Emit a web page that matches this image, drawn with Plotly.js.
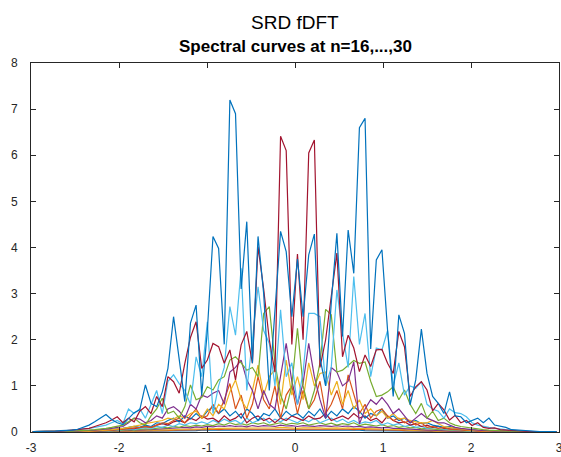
<!DOCTYPE html>
<html><head><meta charset="utf-8">
<script src="https://cdn.plot.ly/plotly-3.0.1.min.js"></script>
<style>html,body{margin:0;padding:0;background:#fff;overflow:hidden}#chart{width:561px;height:457px}</style>
</head><body><div id="chart"></div>
<script>
// frequency grid
var xGrid = [-2.98,-2.916,-2.852,-2.788,-2.724,-2.66,-2.596,-2.532,-2.468,-2.404,
-2.34,-2.276,-2.212,-2.148,-2.084,-2.02,-1.956,-1.892,-1.828,-1.764,
-1.7,-1.636,-1.572,-1.508,-1.444,-1.38,-1.316,-1.252,-1.188,-1.124,
-1.06,-0.996,-0.932,-0.868,-0.804,-0.74,-0.676,-0.612,-0.548,-0.484,
-0.42,-0.356,-0.292,-0.228,-0.164,-0.1,-0.036,0.028,0.092,0.156,
0.22,0.284,0.348,0.412,0.476,0.54,0.604,0.668,0.732,0.796,
0.86,0.924,0.988,1.052,1.116,1.18,1.244,1.308,1.372,1.436,
1.5,1.564,1.628,1.692,1.756,1.82,1.884,1.948,2.012,2.076,
2.14,2.204,2.268,2.332,2.396,2.46,2.524,2.588,2.652,2.716,
2.78,2.844,2.908,2.972];

var n16 = [0,0,0,0,0,0,0,0,0,0,
0,0,0,0.01,0.01,0.01,0.01,0.01,0.01,0.02,
0.02,0.02,0.02,0.02,0.03,0.03,0.03,0.03,0.03,0.03,
0.04,0.04,0.04,0.04,0.04,0.04,0.04,0.04,0.04,0.05,
0.04,0.05,0.04,0.05,0.04,0.05,0.04,0.05,0.04,0.05,
0.04,0.05,0.04,0.04,0.04,0.04,0.04,0.04,0.04,0.03,
0.03,0.03,0.03,0.03,0.03,0.03,0.02,0.02,0.02,0.02,
0.02,0.01,0.01,0.01,0.01,0.01,0.01,0,0,0,
0,0,0,0,0,0,0,0,0,0,0,0,0,0];
var n17 = [0,0,0,0,0,0,0,0,0,0,
0,0,0.01,0.01,0.01,0.01,0.01,0.02,0.02,0.02,
0.02,0.03,0.03,0.03,0.03,0.04,0.04,0.04,0.05,0.05,
0.05,0.05,0.06,0.05,0.06,0.06,0.06,0.06,0.06,0.07,
0.06,0.07,0.06,0.07,0.07,0.06,0.07,0.06,0.07,0.06,
0.07,0.06,0.07,0.06,0.06,0.06,0.06,0.05,0.06,0.05,
0.05,0.05,0.04,0.04,0.04,0.04,0.03,0.03,0.03,0.02,
0.02,0.02,0.02,0.01,0.01,0.01,0.01,0.01,0,0,
0,0,0,0,0,0,0,0,0,0,0,0,0,0];
var n18 = [0,0,0,0,0,0,0,0,0,0,
0,0.01,0.01,0.01,0.01,0.02,0.02,0.02,0.03,0.03,
0.03,0.04,0.04,0.05,0.05,0.05,0.06,0.06,0.07,0.07,
0.07,0.08,0.07,0.08,0.08,0.09,0.08,0.09,0.08,0.09,
0.09,0.08,0.09,0.09,0.1,0.09,0.09,0.08,0.09,0.09,
0.1,0.09,0.08,0.09,0.09,0.08,0.09,0.08,0.08,0.07,
0.07,0.07,0.06,0.06,0.05,0.05,0.05,0.04,0.04,0.03,
0.03,0.03,0.02,0.02,0.02,0.01,0.01,0.01,0.01,0,
0,0,0,0,0,0,0,0,0,0,0,0,0,0];
var n19 = [0,0,0,0,0,0,0,0,0.01,0.01,
0.01,0.01,0.01,0.02,0.02,0.02,0.03,0.03,0.04,0.04,
0.05,0.05,0.06,0.07,0.07,0.08,0.09,0.1,0.09,0.11,
0.1,0.12,0.11,0.13,0.12,0.14,0.12,0.13,0.11,0.14,
0.12,0.14,0.13,0.12,0.15,0.13,0.14,0.12,0.14,0.13,
0.12,0.14,0.13,0.12,0.14,0.12,0.13,0.11,0.12,0.1,
0.11,0.1,0.09,0.1,0.08,0.08,0.07,0.06,0.06,0.05,
0.04,0.04,0.03,0.03,0.02,0.02,0.02,0.01,0.01,0.01,
0,0,0,0,0,0,0,0,0,0,0,0,0,0];
var n20 = [0,0,0,0,0,0,0,0.01,0.01,0.01,
0.01,0.01,0.02,0.02,0.03,0.03,0.04,0.05,0.04,0.06,
0.07,0.06,0.08,0.1,0.09,0.12,0.1,0.14,0.12,0.15,
0.13,0.16,0.14,0.18,0.15,0.2,0.16,0.18,0.15,0.2,
0.17,0.2,0.15,0.18,0.2,0.16,0.19,0.17,0.2,0.15,
0.18,0.2,0.16,0.19,0.15,0.18,0.16,0.2,0.14,0.17,
0.15,0.13,0.16,0.12,0.14,0.1,0.12,0.09,0.1,0.07,
0.08,0.06,0.05,0.05,0.04,0.03,0.03,0.02,0.02,0.01,
0.01,0.01,0.01,0.01,0,0,0,0,0,0,0,0,0,0];
var n21 = [0,0,0,0,0,0,0,0.01,0.01,0.01,
0.01,0.02,0.02,0.03,0.03,0.04,0.05,0.06,0.05,0.08,
0.1,0.08,0.12,0.1,0.15,0.12,0.18,0.15,0.2,0.18,
0.22,0.18,0.25,0.2,0.28,0.22,0.25,0.18,0.3,0.2,
0.25,0.3,0.2,0.28,0.22,0.3,0.25,0.2,0.28,0.22,
0.3,0.2,0.25,0.3,0.22,0.28,0.2,0.25,0.18,0.22,
0.2,0.25,0.15,0.2,0.15,0.18,0.12,0.15,0.1,0.12,
0.08,0.1,0.07,0.06,0.05,0.04,0.04,0.03,0.02,0.02,
0.01,0.01,0.01,0.01,0.01,0.01,0,0,0,0,0,0,0,0];
var n22 = [0,0,0,0,0,0,0.01,0.01,0.01,0.01,
0.02,0.02,0.03,0.03,0.04,0.05,0.06,0.08,0.07,0.1,
0.12,0.1,0.15,0.18,0.15,0.22,0.25,0.2,0.3,0.25,
0.35,0.28,0.3,0.22,0.35,0.25,0.3,0.4,0.2,0.3,
0.35,0.25,0.3,0.2,0.3,0.25,0.35,0.3,0.25,0.35,
0.28,0.3,0.4,0.25,0.3,0.35,0.28,0.4,0.3,0.35,
0.25,0.3,0.2,0.35,0.25,0.2,0.22,0.15,0.18,0.12,
0.15,0.1,0.12,0.08,0.07,0.06,0.05,0.04,0.03,0.03,
0.02,0.02,0.01,0.01,0.01,0.01,0,0,0,0,0,0,0,0];
var n23 = [0,0,0,0,0,0.01,0.01,0.01,0.01,0.02,
0.02,0.03,0.03,0.04,0.05,0.06,0.08,0.1,0.12,0.1,
0.15,0.12,0.2,0.18,0.25,0.3,0.22,0.35,0.28,0.4,
0.3,0.45,0.55,0.4,0.5,0.35,0.45,0.3,0.5,0.4,
0.25,0.4,0.35,0.5,0.3,0.45,0.35,0.4,0.3,0.45,
0.35,0.5,0.3,0.45,0.35,0.5,0.4,0.55,0.45,0.3,
0.4,0.35,0.5,0.3,0.35,0.25,0.3,0.2,0.25,0.18,
0.2,0.15,0.12,0.1,0.12,0.08,0.06,0.05,0.04,0.03,
0.03,0.02,0.02,0.02,0.01,0.01,0.01,0.01,0,0,0,0,0,0];
var n24 = [0.01,0.01,0.01,0.01,0.01,0.01,0.01,0.01,0.01,0.02,
0.02,0.02,0.03,0.03,0.04,0.05,0.06,0.07,0.08,0.1,
0.12,0.1,0.15,0.2,0.18,0.25,0.3,0.2,0.35,0.5,
0.3,0.35,0.6,0.4,0.7,1.05,0.5,0.8,0.3,0.6,
1.2,0.7,0.5,1.0,0.3,0.8,1.0,0.4,0.9,0.5,
0.7,1.1,0.4,0.6,0.9,0.5,1.24,0.8,0.4,0.6,
0.3,0.45,0.5,0.35,0.25,0.3,0.2,0.25,0.15,0.2,
0.1,0.12,0.08,0.1,0.06,0.05,0.04,0.03,0.03,0.02,
0.01,0.01,0.01,0.01,0.01,0.01,0.01,0.01,0.01,0.01,0.01,0.01,0.01,0.01];
var n25 = [0.01,0.01,0.01,0.01,0.01,0.01,0.01,0.01,0.02,0.02,
0.02,0.03,0.03,0.04,0.05,0.06,0.08,0.1,0.12,0.15,
0.18,0.2,0.22,0.25,0.3,0.28,0.35,0.3,0.4,0.45,
0.3,0.5,0.35,0.6,0.5,0.87,1.13,0.7,0.5,0.9,
1.45,0.8,1.2,1.35,0.6,1.56,0.8,1.2,0.7,1.5,
1.0,1.27,1.3,0.8,1.1,0.6,0.9,0.5,0.7,0.4,
0.5,0.35,0.45,0.3,0.4,0.28,0.3,0.25,0.22,0.2,
0.2,0.25,0.18,0.12,0.1,0.08,0.06,0.05,0.04,0.03,
0.02,0.02,0.02,0.01,0.01,0.01,0.01,0.01,0.01,0.01,0.01,0.01,0.01,0.01];
var n26 = [0.01,0.01,0.01,0.01,0.01,0.01,0.01,0.02,0.02,0.03,
0.03,0.04,0.05,0.06,0.08,0.1,0.12,0.2,0.3,0.28,
0.2,0.25,0.35,0.3,0.5,0.55,0.45,0.3,0.6,0.5,
0.8,0.75,0.84,0.9,0.6,1.3,1.4,1.56,1.13,0.9,
0.5,0.9,0.6,0.5,1.2,1.92,1.1,0.6,1.06,1.92,
1.2,0.7,0.3,1.4,1.3,1.0,1.1,1.52,0.17,0.5,
0.7,0.6,0.75,0.6,0.4,0.5,0.35,0.2,0.3,0.4,
0.3,0.25,0.2,0.2,0.15,0.1,0.08,0.06,0.05,0.04,
0.03,0.02,0.02,0.02,0.01,0.01,0.01,0.01,0.01,0.01,0.01,0.01,0.01,0.01];
var n27 = [0.01,0.01,0.01,0.01,0.01,0.01,0.02,0.02,0.03,0.03,
0.04,0.05,0.06,0.08,0.1,0.12,0.15,0.22,0.3,0.2,
0.15,0.35,0.5,0.73,0.4,0.45,0.3,0.55,1.02,0.7,
0.75,0.98,0.91,1.13,1.2,1.56,1.63,1.5,1.34,1.4,
1.2,2.57,2.72,1.5,0.8,0.5,1.0,2.25,1.0,0.5,
0.9,1.5,2.66,2.54,1.3,1.34,1.45,1.55,1.49,1.52,
1.1,0.77,0.8,0.87,0.98,0.7,0.91,0.6,0.4,0.62,
0.3,0.45,0.25,0.3,0.2,0.15,0.12,0.1,0.08,0.06,
0.05,0.04,0.03,0.03,0.02,0.02,0.01,0.01,0.01,0.01,0.01,0.01,0.01,0.01];
var n28 = [0.01,0.01,0.01,0.01,0.02,0.02,0.03,0.04,0.05,0.06,
0.08,0.1,0.12,0.15,0.2,0.25,0.18,0.5,0.4,0.5,
0.3,0.6,0.9,0.4,1.1,1.24,1.05,0.9,0.6,1.63,
1.2,2.39,0.4,1.0,1.4,2.72,2.1,3.55,0.9,2.0,
3.15,2.2,1.92,1.0,2.65,1.2,1.5,0.6,1.3,2.57,
2.57,2.5,1.0,1.4,3.08,2.14,1.4,3.37,1.9,2.57,
1.2,1.82,1.78,2.2,1.0,1.5,0.8,1.0,0.95,1.09,
0.6,0.5,0.45,0.3,0.5,0.42,0.4,0.33,0.2,0.15,
0.12,0.1,0.08,0.06,0.05,0.04,0.03,0.02,0.01,0.01,0.01,0.01,0.01,0.01];
var n29 = [0.01,0.01,0.01,0.01,0.02,0.02,0.03,0.04,0.05,0.07,
0.08,0.12,0.16,0.2,0.26,0.33,0.2,0.3,0.22,0.45,
0.55,0.4,0.77,0.55,1.2,1.09,0.84,1.49,2.05,2.39,
1.38,1.56,1.92,1.85,1.49,1.78,1.13,1.89,2.18,1.49,
4.02,3.1,2.0,1.3,6.41,6.1,1.9,3.86,2.0,6.05,
6.33,1.4,2.0,3.0,3.88,1.63,2.1,1.82,1.31,1.67,
1.42,1.78,1.79,1.49,1.27,2.18,1.85,0.77,0.98,1.09,
0.91,0.46,0.62,0.48,0.26,0.36,0.2,0.25,0.14,0.2,
0.1,0.08,0.09,0.05,0.04,0.03,0.02,0.02,0.01,0.01,0.01,0.01,0.01,0.01];
var n30 = [0.01,0.01,0.01,0.02,0.02,0.03,0.03,0.04,0.06,0.1,
0.15,0.22,0.3,0.38,0.27,0.2,0.16,0.3,0.42,0.48,
1.02,0.62,0.55,0.87,1.38,2.5,1.63,0.66,2.36,2.75,
0.8,2.2,4.24,3.98,1.9,7.2,6.9,3.1,4.56,1.49,
4.24,3.0,0.9,2.6,4.35,3.91,2.5,3.75,2.5,3.84,
4.29,1.6,1.0,2.8,4.31,2.07,4.38,3.44,6.6,6.8,
1.8,3.73,3.95,2.2,0.77,2.54,2.14,0.59,1.13,2.23,
1.27,0.77,0.62,0.4,0.87,0.35,0.33,0.2,0.25,0.3,
0.2,0.3,0.15,0.12,0.1,0.05,0.04,0.03,0.02,0.02,0.01,0.01,0.01,0.01];

var seriesNames = ['n=16','n=17','n=18','n=19','n=20','n=21','n=22','n=23','n=24','n=25','n=26','n=27','n=28','n=29','n=30'];
var seriesValues = [n16,n17,n18,n19,n20,n21,n22,n23,n24,n25,n26,n27,n28,n29,n30];
var colorOrder = ['#0072BD','#D95319','#EDB120','#7E2F8E','#77AC30','#4DBEEE','#A2142F'];
var xTicks = [-3,-2,-1,0,1,2,3];
var xTickText = ['-3','-2','-1','0','1','2','3'];
var yTicks = [0,1,2,3,4,5,6,7,8];
var yTickText = ['0','1','2','3','4','5','6','7','8'];

var traces = seriesValues.map(function(v,i){
  return {x:xGrid, y:v, type:'scatter', mode:'lines', name:seriesNames[i],
    line:{color:colorOrder[i%7], width:1.2}, hoverinfo:'skip'};
});

var axisCommon = {showgrid:false, zeroline:false, showline:true, linecolor:'#262626', linewidth:1,
  mirror:'ticks', ticks:'inside', ticklen:5, tickcolor:'#262626', ticklabeloverflow:'allow',
  tickfont:{family:'Liberation Sans, Arial, sans-serif', size:12, color:'#262626'}};

var layout = {
  width:561, height:457,
  margin:{l:31, r:2, t:63, b:25},
  paper_bgcolor:'#fff', plot_bgcolor:'#fff',
  showlegend:false,
  xaxis:Object.assign({}, axisCommon, {range:[-3,3], tickvals:xTicks, ticktext:xTickText, ticklabelstandoff:5}),
  yaxis:Object.assign({}, axisCommon, {range:[0,8], tickvals:yTicks, ticktext:yTickText, ticklabelstandoff:10}),
  annotations:[
    {text:'SRD fDFT', xref:'paper', yref:'paper', x:0.5, y:1.111, xanchor:'center', yanchor:'middle', showarrow:false,
     font:{family:'Liberation Sans, Arial, sans-serif', size:19, color:'#000'}},
    {text:'<b>Spectral curves at n=16,...,30</b>', xref:'paper', yref:'paper', x:0.5, y:1.0434, xanchor:'center', yanchor:'middle', showarrow:false,
     font:{family:'Liberation Sans, Arial, sans-serif', size:17, color:'#000'}}
  ]
};

Plotly.newPlot('chart', traces, layout, {staticPlot:true, displayModeBar:false});
</script>
</body></html>
